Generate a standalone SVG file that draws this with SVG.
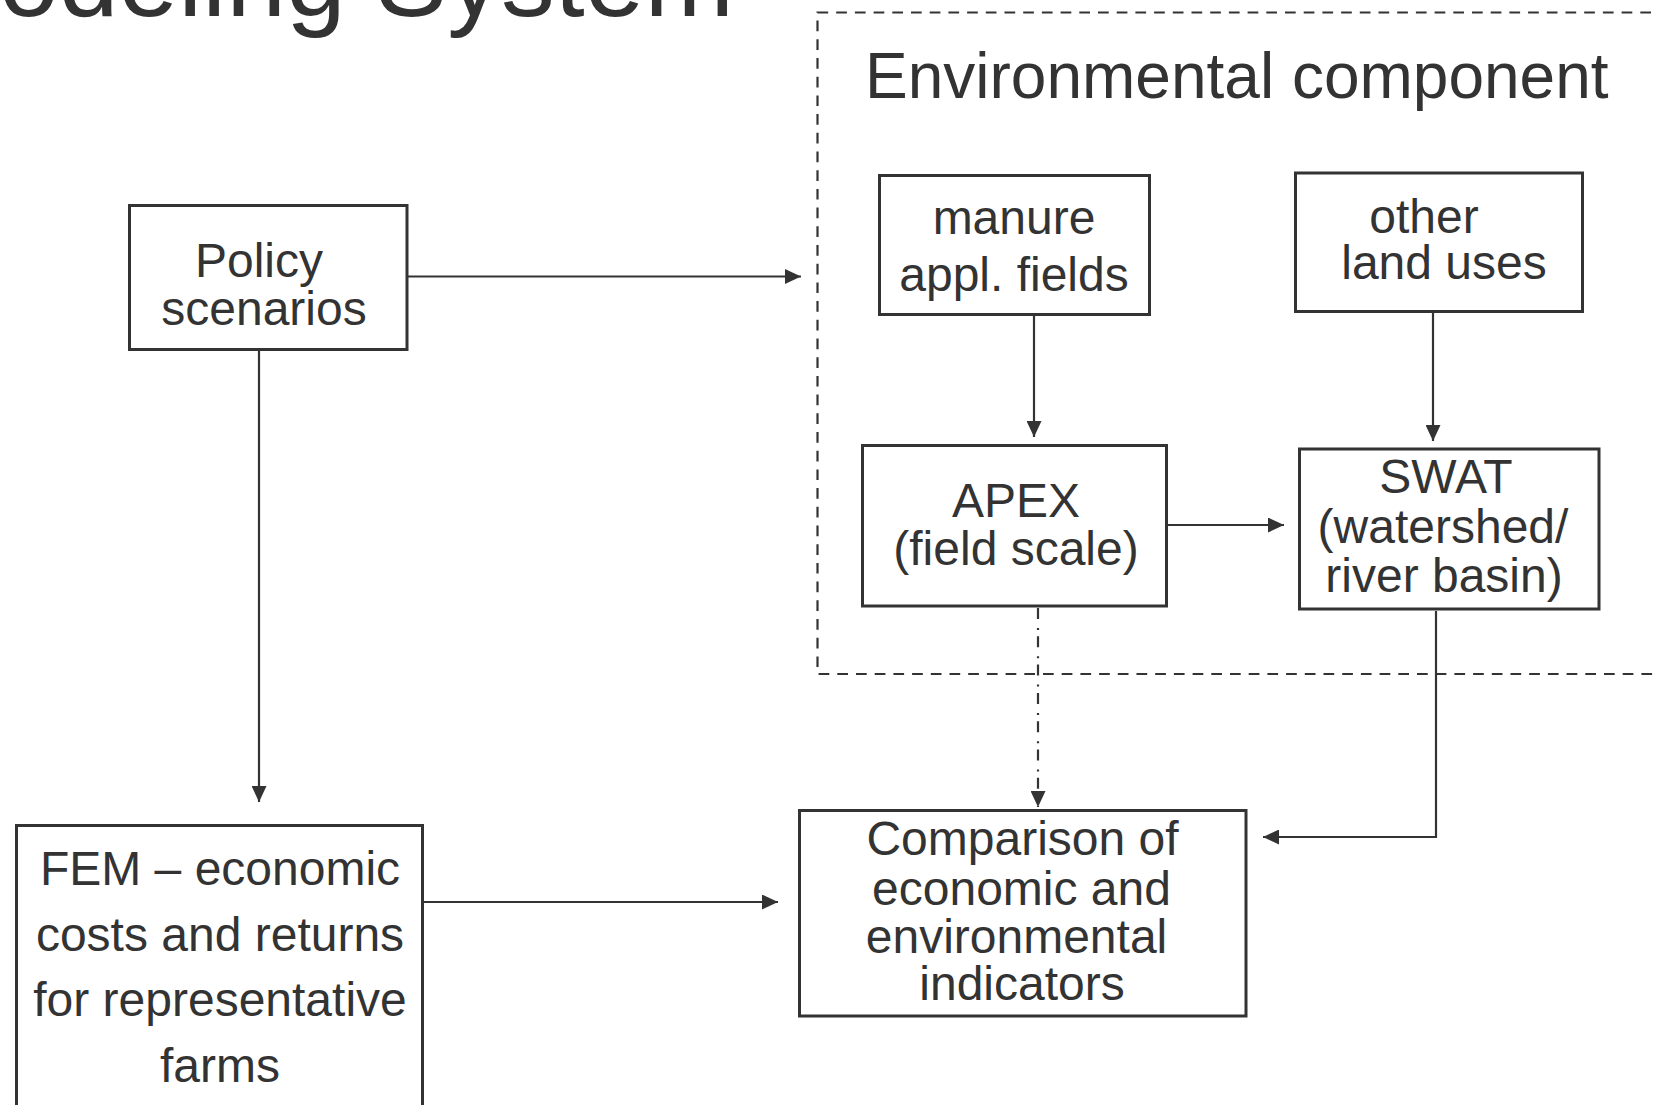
<svg xmlns="http://www.w3.org/2000/svg" width="1658" height="1105" viewBox="0 0 1658 1105">
<style>
  .box { fill: #ffffff; stroke: #333333; stroke-width: 3; }
  .t { font-family: "Liberation Sans", Arial, sans-serif; font-size: 48px; fill: #333333; text-anchor: middle; }
  .title { font-family: "Liberation Sans", Arial, sans-serif; fill: #333333; }
  .conn { fill: none; stroke: #333333; stroke-width: 2.2; }
  .dashdot { stroke-dasharray: 11 9 2 6.3; }
  .group { fill: none; stroke: #333333; stroke-width: 2.2; stroke-dasharray: 10.7 8; }
</style>
<defs>
  <marker id="arrow" markerUnits="userSpaceOnUse" viewBox="0 0 16 15" refX="16" refY="7.5" markerWidth="16" markerHeight="15" orient="auto">
    <path d="M0,0 L16,7.5 L0,15 Z" fill="#333333"/>
  </marker>
</defs>
<rect width="1658" height="1105" fill="#ffffff"/>
<text class="title" x="-1" y="16" font-size="107.5">odeling System</text>

<g id="env-component">
  <rect class="group" x="817.5" y="12.5" width="900" height="661.5"/>
  <text class="title" x="865" y="98" font-size="64">Environmental component</text>
</g>

<g id="connectors">
  <path class="conn" d="M408,276.5 H801" marker-end="url(#arrow)"/>
  <path class="conn" d="M259,351 V802" marker-end="url(#arrow)"/>
  <path class="conn" d="M424,902 H778" marker-end="url(#arrow)"/>
  <path class="conn" d="M1034,316 V437" marker-end="url(#arrow)"/>
  <path class="conn" d="M1433,313 V441" marker-end="url(#arrow)"/>
  <path class="conn" d="M1168,525 H1284" marker-end="url(#arrow)"/>
  <path class="conn dashdot" d="M1038,608 V807" marker-end="url(#arrow)"/>
  <path class="conn" d="M1436,611 V837 H1263" marker-end="url(#arrow)"/>
</g>

<g id="policy">
  <rect class="box" x="129.5" y="205.5" width="277.5" height="144"/>
  <text class="t" x="259" y="277">Policy</text>
  <text class="t" x="264" y="325">scenarios</text>
</g>

<g id="manure">
  <rect class="box" x="879.5" y="175.5" width="270" height="139"/>
  <text class="t" x="1014" y="234">manure</text>
  <text class="t" x="1014" y="291">appl. fields</text>
</g>

<g id="other">
  <rect class="box" x="1295.5" y="173" width="287" height="138.5"/>
  <text class="t" x="1424" y="233">other</text>
  <text class="t" x="1444" y="279">land uses</text>
</g>

<g id="apex">
  <rect class="box" x="862.5" y="445.5" width="304" height="160.5"/>
  <text class="t" x="1016" y="517">APEX</text>
  <text class="t" x="1016" y="565">(field scale)</text>
</g>

<g id="swat">
  <rect class="box" x="1299.5" y="449" width="299.5" height="160"/>
  <text class="t" x="1446" y="493">SWAT</text>
  <text class="t" x="1443" y="543">(watershed/</text>
  <text class="t" x="1444" y="592">river basin)</text>
</g>

<g id="comparison">
  <rect class="box" x="799.5" y="810.5" width="446.5" height="205.5"/>
  <text class="t" x="1022.5" y="855">Comparison of</text>
  <text class="t" x="1021.5" y="905">economic and</text>
  <text class="t" x="1016.5" y="953">environmental</text>
  <text class="t" x="1022" y="1000">indicators</text>
</g>

<g id="fem">
  <rect class="box" x="16.5" y="825.5" width="406" height="320"/>
  <text class="t" x="220" y="885">FEM – economic</text>
  <text class="t" x="220" y="951">costs and returns</text>
  <text class="t" x="220" y="1016">for representative</text>
  <text class="t" x="220" y="1082">farms</text>
</g>
</svg>
